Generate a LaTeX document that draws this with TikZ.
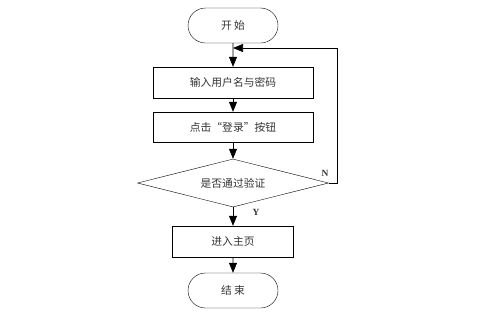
\documentclass[tikz,border=0pt]{standalone}
\usepackage{fontspec}
\newfontfamily\cjk{Noto Sans CJK SC}
\setmainfont{Liberation Serif}
\usetikzlibrary{shapes.geometric,shapes.misc,arrows.meta}
\begin{document}
\begin{tikzpicture}[x=1bp,y=-1bp,
  every node/.style={font=\cjk\fontsize{10.8}{12}\selectfont, text=black!80},
  term/.style={draw, rounded rectangle, minimum width=90bp, minimum height=35bp, inner sep=0pt},
  proc/.style={draw, rectangle, minimum height=31bp, inner sep=0pt},
  decide/.style={draw, diamond, aspect=4, minimum width=191bp, minimum height=48bp, inner sep=0pt},
  flow/.style={-{Triangle[length=10bp,width=8bp]}, line width=0.6pt},
  lbl/.style={font=\fontsize{9.5}{10}\selectfont\bfseries}
]
\useasboundingbox (0,0) rectangle (494,315);
\node[term] (start) at (233,25.5) {开\ 始};
\node[proc, minimum width=160bp] (in) at (233,82.5) {输入用户名与密码};
\node[proc, minimum width=160bp, minimum height=30bp] (click) at (233,127) {点击“登录”按钮};
\node[decide] (chk) at (233,183) {是否通过验证};
\node[proc, minimum width=121bp] (home) at (233,241.5) {进入主页};
\node[term] (end) at (233,290.5) {结\ 束};
\coordinate (c1) at (337,183);
\coordinate (c2) at (337,48);
\coordinate (m) at (233,48);
\draw[flow] (start) -- (in);
\draw[flow] (in) -- (click);
\draw[flow] (click) -- (chk);
\draw[flow] (chk) -- (home);
\draw[flow] (home) -- (end);
\draw[flow] (chk.east) -- (c1) -- (c2) -- (m);
\node[lbl] (n) at (325,173) {N};
\node[lbl] (y) at (256,212) {Y};
\end{tikzpicture}
\end{document}
